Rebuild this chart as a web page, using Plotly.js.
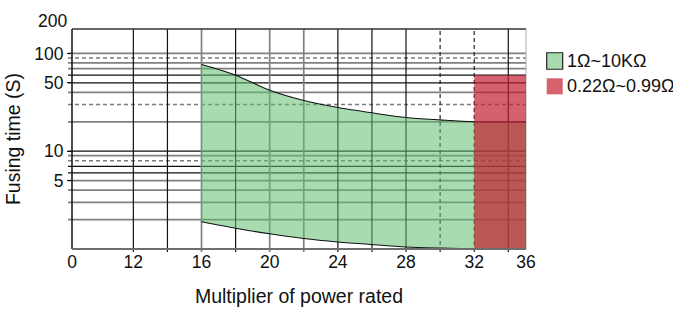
<!DOCTYPE html>
<html>
<head>
<meta charset="utf-8">
<script src="https://cdn.plot.ly/plotly-3.0.1.min.js"></script>
<style>
  html, body { margin: 0; padding: 0; background: #fff; }
  #chart { width: 673px; height: 309px; }
</style>
</head>
<body>
<div id="chart"></div>
<script>
// ---------------- data ----------------
const seriesNames = ['1Ω~10KΩ', '0.22Ω~0.99Ω'];

// 1Ω ~ 10KΩ band (multiplier of rated power vs fusing time, seconds)
const bandMultiplier = [16, 18, 20, 22, 24, 26, 28, 30, 32, 36];
const bandUpperTime  = [77, 60, 42, 33, 28, 24.7, 22.1, 20.9, 20, 20];
const bandLowerTime  = [1.9, 1.63, 1.43, 1.28, 1.18, 1.11, 1.05, 1.02, 1, 1];

// 0.22Ω ~ 0.99Ω block
const lowOhmMultiplier = [32, 36];
const lowOhmTime = [1, 60];

// axis ticks (the x axis is broken: its left edge is labelled 0, its right edge 36)
const xTickLabels = ['0', '12', '16', '20', '24', '28', '32', '36'];
const xTickValues = [8.4, 12, 16, 20, 24, 28, 32, 35.04];
const yTickValues = [5, 10, 50, 100];
const yTopLabel = '200';

// grid lines: [value, kind]  kind: 'g' gray solid, 'k' black solid, 'd' dashed
const hGrid = [[100,'g'],[90,'d'],[80,'g'],[70,'g'],[60,'k'],[50,'k'],[40,'g'],[30,'d'],[20,'g'],
               [10,'k'],[9,'g'],[8,'d'],[7,'k'],[6,'k'],[5,'g'],[4,'g'],[3,'g'],[2,'g']];
const vGrid = [[12,'k'],[14,'k'],[16,'g'],[18,'k'],[20,'g'],[22,'g'],[24,'k'],[26,'k'],[28,'k'],
               [30,'kd'],[32,'kd'],[34,'k']];

// ---------------- styles ----------------
const FONT = 'Liberation Sans, Arial, Helvetica, sans-serif';
const GREEN_FILL = 'rgba(97,191,111,0.55)';
const RED_FILL = 'rgba(194,32,49,0.70)';
const PLOT_W = 454, PLOT_H = 220;
const TICK_SIZE = 17.5, TITLE_SIZE = 19.5, LEGEND_SIZE = 18;

function lineStyle(kind) {
  if (kind === 'g') return {color: '#808080', width: 1.7};
  if (kind === 'k') return {color: '#111111', width: 1.2};
  if (kind === 'kd') return {color: '#111111', width: 1.1, dash: '4px,3px'};
  return {color: '#7a7a7a', width: 1.5, dash: '4px,3px'};
}

const shapes = [];
hGrid.forEach(([v, k]) => shapes.push({
  type: 'line', layer: 'below', xref: 'paper', yref: 'y',
  x0: -4 / PLOT_W, x1: 1, y0: v, y1: v, line: lineStyle(k)
}));
vGrid.forEach(([v, k]) => shapes.push({
  type: 'line', layer: 'below', xref: 'x', yref: 'paper',
  x0: v, x1: v, y0: -3 / PLOT_H, y1: 1, line: lineStyle(k)
}));
// frame
shapes.push({type: 'line', layer: 'below', xref: 'paper', yref: 'paper', x0: 0, x1: 1, y0: 1, y1: 1,
             line: {color: '#333', width: 1.5}});
shapes.push({type: 'line', layer: 'below', xref: 'paper', yref: 'paper', x0: 1, x1: 1, y0: 0, y1: 1,
             line: {color: '#aaa', width: 1}});
shapes.push({type: 'line', layer: 'above', xref: 'paper', yref: 'paper', x0: 0, x1: 0, y0: 0, y1: 1,
             line: {color: '#111', width: 1.5}});
shapes.push({type: 'line', layer: 'above', xref: 'paper', yref: 'paper', x0: 0, x1: 1, y0: 0, y1: 0,
             line: {color: '#6e6e6e', width: 2.2}});

// custom legend
const legX0 = 474.7 / PLOT_W, legX1 = 490.7 / PLOT_W, legTextX = 493 / PLOT_W;
shapes.push({type: 'rect', xref: 'paper', yref: 'paper', x0: legX0, x1: legX1, y0: 0.817, y1: 0.892,
             fillcolor: '#a8dcb0', line: {color: '#222', width: 1.2}});
shapes.push({type: 'rect', xref: 'paper', yref: 'paper', x0: legX0, x1: legX1, y0: 0.703, y1: 0.776,
             fillcolor: '#d4636f', line: {width: 0}});

const annotations = [
  {xref: 'paper', yref: 'paper', x: legTextX, y: 0.8545, xanchor: 'left', yanchor: 'middle',
   text: seriesNames[0], showarrow: false, font: {family: FONT, size: LEGEND_SIZE, color: '#111'}},
  {xref: 'paper', yref: 'paper', x: legTextX, y: 0.7395, xanchor: 'left', yanchor: 'middle',
   text: seriesNames[1], showarrow: false, font: {family: FONT, size: LEGEND_SIZE, color: '#111'}},
  {xref: 'paper', yref: 'paper', x: 0, y: 1, xanchor: 'right', yanchor: 'middle', xshift: -3, yshift: 8,
   text: yTopLabel, showarrow: false, font: {family: FONT, size: TICK_SIZE, color: '#111'}}
];

// ---------------- traces ----------------
const traces = [
  {x: bandMultiplier, y: bandLowerTime, type: 'scatter', mode: 'lines',
   line: {color: '#111', width: 1.1, shape: 'spline', smoothing: 0.8},
   showlegend: false, hoverinfo: 'skip'},
  {x: bandMultiplier, y: bandUpperTime, type: 'scatter', mode: 'lines', fill: 'tonexty',
   fillcolor: GREEN_FILL, line: {color: '#111', width: 1.1, shape: 'spline', smoothing: 0.8},
   name: seriesNames[0], showlegend: false},
  {x: [lowOhmMultiplier[0], lowOhmMultiplier[1], lowOhmMultiplier[1], lowOhmMultiplier[0]],
   y: [lowOhmTime[0], lowOhmTime[0], lowOhmTime[1], lowOhmTime[1]],
   type: 'scatter', mode: 'lines', fill: 'toself', fillcolor: RED_FILL, line: {width: 0},
   name: seriesNames[1], showlegend: false}
];

const layout = {
  width: 673, height: 309,
  margin: {l: 72, r: 147, t: 29, b: 60, pad: 0},
  paper_bgcolor: '#fff', plot_bgcolor: 'rgba(0,0,0,0)',
  showlegend: false,
  font: {family: FONT, size: TICK_SIZE, color: '#111'},
  xaxis: {
    range: [xTickValues[0], xTickValues[xTickValues.length - 1]],
    tickvals: xTickValues, ticktext: xTickLabels,
    showgrid: false, zeroline: false, showline: false, ticks: '',
    tickfont: {family: FONT, size: TICK_SIZE, color: '#111'},
    title: {text: 'Multiplier of power rated', font: {family: FONT, size: TITLE_SIZE, color: '#111'}, standoff: 18}
  },
  yaxis: {
    type: 'log', range: [0, 2.25],
    tickvals: yTickValues, ticktext: yTickValues.map(String),
    showgrid: false, zeroline: false, showline: false, ticks: 'outside', ticklen: 4, tickcolor: '#111',
    tickfont: {family: FONT, size: TICK_SIZE, color: '#111'},
    title: {text: 'Fusing time (S)', font: {family: FONT, size: TITLE_SIZE, color: '#111'}, standoff: 8}
  },
  shapes: shapes,
  annotations: annotations
};

Plotly.newPlot('chart', traces, layout, {displayModeBar: false, staticPlot: true});
</script>
</body>
</html>
